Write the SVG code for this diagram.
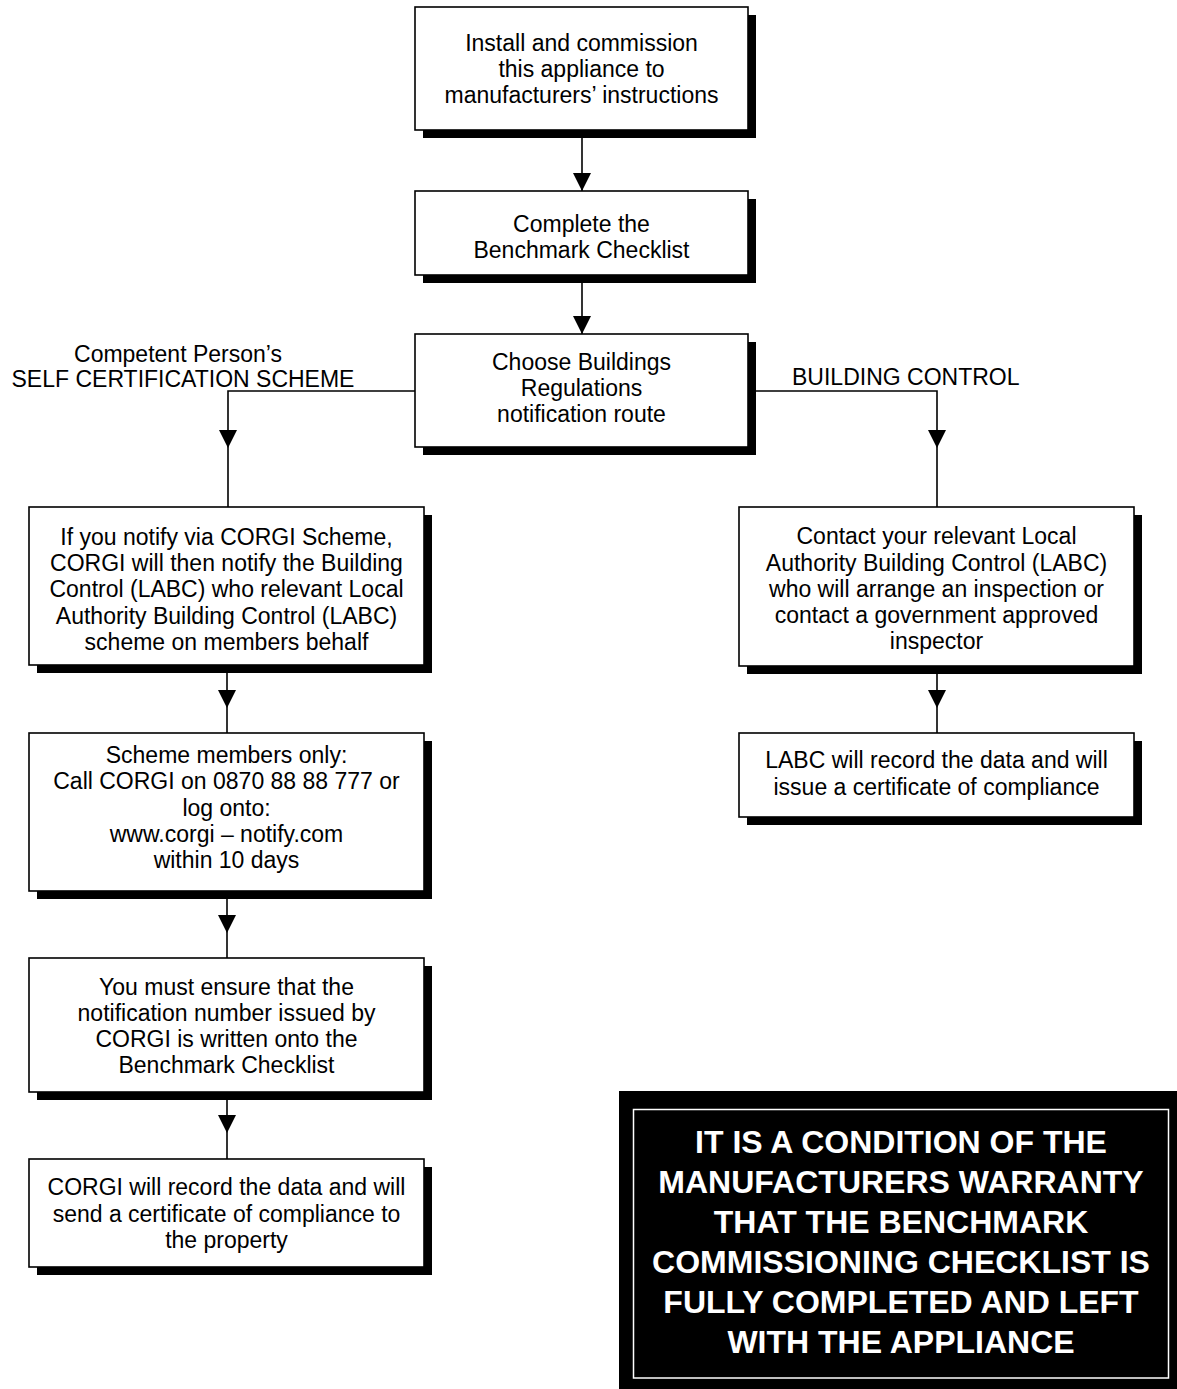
<svg xmlns="http://www.w3.org/2000/svg" xmlns:xlink="http://www.w3.org/1999/xlink" width="1177" height="1389" viewBox="0 0 1177 1389">
<style>
.shadow{fill:#000}
.box{fill:#fff;stroke:#000;stroke-width:1.6}
.t{font-family:"Liberation Sans",Arial,Helvetica,sans-serif;font-size:23px;fill:#000;text-anchor:middle}
.lbl{font-family:"Liberation Sans",Arial,Helvetica,sans-serif;font-size:23px;fill:#000}
.conn{fill:none;stroke:#000;stroke-width:1.6}
.warn{font-family:"Liberation Sans",Arial,Helvetica,sans-serif;font-size:32px;font-weight:bold;fill:#fff;text-anchor:middle}
</style>
<defs>
<path id="ah" d="M-9,-18 L9,-18 L0,0 Z" fill="#000"/>
</defs>
<rect width="1177" height="1389" fill="#fff"/>

<g id="connectors">
<path class="conn" d="M582,130 V191"/>
<use xlink:href="#ah" x="582" y="191"/>
<path class="conn" d="M582,275 V334"/>
<use xlink:href="#ah" x="582" y="334"/>
<path class="conn" d="M415,391 H228 V507"/>
<use xlink:href="#ah" x="228" y="448"/>
<path class="conn" d="M748,391 H937 V507"/>
<use xlink:href="#ah" x="937" y="448"/>
<path class="conn" d="M227,665 V733"/>
<use xlink:href="#ah" x="227" y="708"/>
<path class="conn" d="M227,891 V958"/>
<use xlink:href="#ah" x="227" y="933"/>
<path class="conn" d="M227,1092 V1159"/>
<use xlink:href="#ah" x="227" y="1133"/>
<path class="conn" d="M937,666 V733"/>
<use xlink:href="#ah" x="937" y="708"/>
</g>

<g id="node-install">
<rect class="shadow" x="423" y="15" width="333" height="123"/>
<rect class="box" x="415" y="7" width="333" height="123"/>
<text class="t" x="581.5" y="51">Install and commission</text>
<text class="t" x="581.5" y="77">this appliance to</text>
<text class="t" x="581.5" y="103">manufacturers’ instructions</text>
</g>

<g id="node-benchmark">
<rect class="shadow" x="423" y="199" width="333" height="84"/>
<rect class="box" x="415" y="191" width="333" height="84"/>
<text class="t" x="581.5" y="232">Complete the</text>
<text class="t" x="581.5" y="258">Benchmark Checklist</text>
</g>

<g id="node-choose">
<rect class="shadow" x="423" y="342" width="333" height="113"/>
<rect class="box" x="415" y="334" width="333" height="113"/>
<text class="t" x="581.5" y="370">Choose Buildings</text>
<text class="t" x="581.5" y="396">Regulations</text>
<text class="t" x="581.5" y="422">notification route</text>
</g>

<g id="label-self">
<text class="t" x="178" y="362">Competent Person’s</text>
<text class="t" x="183" y="387">SELF CERTIFICATION SCHEME</text>
</g>

<g id="label-building">
<text class="lbl" x="792" y="385">BUILDING CONTROL</text>
</g>

<g id="node-corgi-notify">
<rect class="shadow" x="37" y="515" width="395" height="158"/>
<rect class="box" x="29" y="507" width="395" height="158"/>
<text class="t" x="226.5" y="545">If you notify via CORGI Scheme,</text>
<text class="t" x="226.5" y="571">CORGI will then notify the Building</text>
<text class="t" x="226.5" y="597">Control (LABC) who relevant Local</text>
<text class="t" x="226.5" y="624">Authority Building Control (LABC)</text>
<text class="t" x="226.5" y="650">scheme on members behalf</text>
</g>

<g id="node-scheme-members">
<rect class="shadow" x="37" y="741" width="395" height="158"/>
<rect class="box" x="29" y="733" width="395" height="158"/>
<text class="t" x="226.5" y="763">Scheme members only:</text>
<text class="t" x="226.5" y="789">Call CORGI on 0870 88 88 777 or</text>
<text class="t" x="226.5" y="816">log onto:</text>
<text class="t" x="226.5" y="842">www.corgi – notify.com</text>
<text class="t" x="226.5" y="868">within 10 days</text>
</g>

<g id="node-ensure">
<rect class="shadow" x="37" y="966" width="395" height="134"/>
<rect class="box" x="29" y="958" width="395" height="134"/>
<text class="t" x="226.5" y="995">You must ensure that the</text>
<text class="t" x="226.5" y="1021">notification number issued by</text>
<text class="t" x="226.5" y="1047">CORGI is written onto the</text>
<text class="t" x="226.5" y="1073">Benchmark Checklist</text>
</g>

<g id="node-corgi-record">
<rect class="shadow" x="37" y="1167" width="395" height="108"/>
<rect class="box" x="29" y="1159" width="395" height="108"/>
<text class="t" x="226.5" y="1195">CORGI will record the data and will</text>
<text class="t" x="226.5" y="1222">send a certificate of compliance to</text>
<text class="t" x="226.5" y="1248">the property</text>
</g>

<g id="node-labc-contact">
<rect class="shadow" x="747" y="515" width="395" height="159"/>
<rect class="box" x="739" y="507" width="395" height="159"/>
<text class="t" x="936.5" y="544">Contact your relevant Local</text>
<text class="t" x="936.5" y="571">Authority Building Control (LABC)</text>
<text class="t" x="936.5" y="597">who will arrange an inspection or</text>
<text class="t" x="936.5" y="623">contact a government approved</text>
<text class="t" x="936.5" y="649">inspector</text>
</g>

<g id="node-labc-record">
<rect class="shadow" x="747" y="741" width="395" height="84"/>
<rect class="box" x="739" y="733" width="395" height="84"/>
<text class="t" x="936.5" y="768">LABC will record the data and will</text>
<text class="t" x="936.5" y="795">issue a certificate of compliance</text>
</g>

<g id="warning">
<rect x="619" y="1091" width="558" height="298" fill="#000"/>
<rect x="633.5" y="1109.5" width="535" height="268.5" fill="none" stroke="#fff" stroke-width="1.5"/>
<text class="warn" x="901" y="1153">IT IS A CONDITION OF THE</text>
<text class="warn" x="901" y="1193">MANUFACTURERS WARRANTY</text>
<text class="warn" x="901" y="1233">THAT THE BENCHMARK</text>
<text class="warn" x="901" y="1273">COMMISSIONING CHECKLIST IS</text>
<text class="warn" x="901" y="1313">FULLY COMPLETED AND LEFT</text>
<text class="warn" x="901" y="1353">WITH THE APPLIANCE</text>
</g>
</svg>
